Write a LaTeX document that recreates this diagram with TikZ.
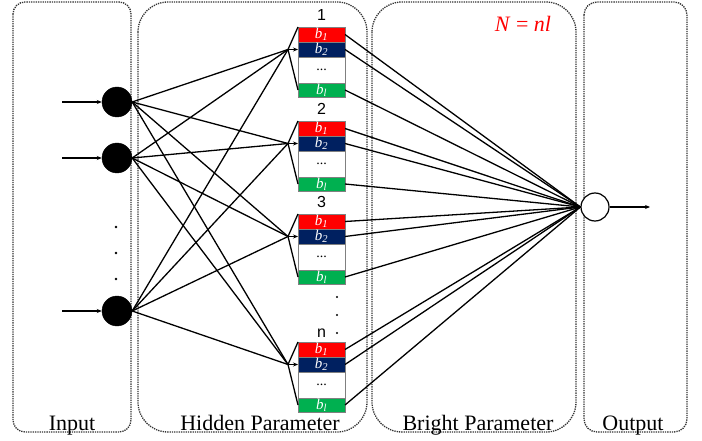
\documentclass[tikz,border=0pt]{standalone}
\usepackage{fontspec}
\setmainfont{Liberation Serif}
\newfontfamily\numfont{Liberation Sans}
\usetikzlibrary{positioning, arrows.meta}

\definecolor{bred}{HTML}{FF0000}
\definecolor{bnavy}{HTML}{002060}
\definecolor{bgreen}{HTML}{00B050}

\tikzset{
  panel/.style={draw=black!80, densely dotted, line width=1.3pt, rounded corners=#1},
  paneltext/.style={anchor=base, inner sep=0pt, font=\fontsize{22}{24}\selectfont},
  inneuron/.style={circle, fill=black, draw=black, minimum size=30pt, inner sep=0pt},
  outneuron/.style={circle, draw=black, line width=1.2pt, fill=white, minimum size=28pt, inner sep=0pt},
  cell/.style={draw=black!50, line width=0.7pt, minimum width=47pt, inner sep=0pt, outer sep=0pt,
    text=white, font=\fontsize{15}{15}\selectfont\itshape},
  rowone/.style={cell, fill=bred, minimum height=15pt},
  rowtwo/.style={cell, fill=bnavy, minimum height=15pt},
  rowdots/.style={cell, fill=white, text=black, minimum height=26pt, font=\fontsize{14}{14}\selectfont},
  rowlast/.style={cell, fill=bgreen, minimum height=14pt},
  numlabel/.style={inner sep=0pt, font=\numfont\fontsize{16}{16}\selectfont},
  wire/.style={line width=1.3pt, black},
}

\begin{document}
\begin{tikzpicture}[x=1pt, y=-1pt, >={Stealth[length=5pt, width=4pt]}]

    \useasboundingbox (0,0) rectangle (702,441);

    % Panels

    \draw[panel=12] (13,2) rectangle (131,432);
    \draw[panel=30] (138,2) rectangle (367,432);
    \draw[panel=30] (372,2) rectangle (576,432);
    \draw[panel=13] (584,2) rectangle (687,432);

    \node[paneltext] (tinput) at (72,430) {Input};
    \node[paneltext] (thidden) at (260,430) {Hidden Parameter};
    \node[paneltext] (tbright) at (478,430) {Bright Parameter};
    \node[paneltext] (toutput) at (633,430) {Output};

    \node[text=bred, font=\fontsize{22}{22}\selectfont] (nform) at (523,24) {\textit{N} = \textit{nl}};

    % Input layer

    \node[inneuron] (i1) at (117,102) {};
    \node[inneuron] (i2) at (117,158) {};
    \node[inneuron] (i3) at (117,311) {};

    \coordinate (a1) at (62,102);
    \coordinate (a2) at (62,158);
    \coordinate (a3) at (62,311);

    \draw[wire, ->] (a1) -- (i1);
    \draw[wire, ->] (a2) -- (i2);
    \draw[wire, ->] (a3) -- (i3);

    \fill (116,227) circle (1.3);
    \fill (116,253) circle (1.3);
    \fill (116,279) circle (1.3);

    % Hidden parameter blocks

    \node[rowone] (c1a) at (321.5,34.5) {b\textsubscript{1}};
    \node[rowtwo, below=0pt of c1a] (c1b) {b\textsubscript{2}};
    \node[rowdots, below=0pt of c1b] (c1c) {...};
    \node[rowlast, below=0pt of c1c] (c1d) {b\textsubscript{l}};
    \node[numlabel, above=6pt of c1a] (t1) {1};

    \node[rowone] (c2a) at (321.5,128.5) {b\textsubscript{1}};
    \node[rowtwo, below=0pt of c2a] (c2b) {b\textsubscript{2}};
    \node[rowdots, below=0pt of c2b] (c2c) {...};
    \node[rowlast, below=0pt of c2c] (c2d) {b\textsubscript{l}};
    \node[numlabel, above=6pt of c2a] (t2) {2};

    \node[rowone] (c3a) at (321.5,221.5) {b\textsubscript{1}};
    \node[rowtwo, below=0pt of c3a] (c3b) {b\textsubscript{2}};
    \node[rowdots, below=0pt of c3b] (c3c) {...};
    \node[rowlast, below=0pt of c3c] (c3d) {b\textsubscript{l}};
    \node[numlabel, above=6pt of c3a] (t3) {3};

    \node[rowone] (c4a) at (321.5,349.5) {b\textsubscript{1}};
    \node[rowtwo, below=0pt of c4a] (c4b) {b\textsubscript{2}};
    \node[rowdots, below=0pt of c4b] (c4c) {...};
    \node[rowlast, below=0pt of c4c] (c4d) {b\textsubscript{l}};
    \node[numlabel, above=4pt of c4a] (t4) {n};

    \fill (337,297) circle (1.1);
    \fill (337,315) circle (1.1);
    \fill (337,333) circle (1.1);

    \coordinate[left=10pt of c1b] (h1);
    \coordinate[left=10pt of c2b] (h2);
    \coordinate[left=10pt of c3b] (h3);
    \coordinate[left=10pt of c4b] (h4);

    \draw[wire, ->] (h1) -- (c1b);
    \draw[wire] (h1) -- (c1a.north west);
    \draw[wire] (h1) -- (c1d.west);
    \draw[wire, ->] (h2) -- (c2b);
    \draw[wire] (h2) -- (c2a.north west);
    \draw[wire] (h2) -- (c2d.west);
    \draw[wire, ->] (h3) -- (c3b);
    \draw[wire] (h3) -- (c3a.north west);
    \draw[wire] (h3) -- (c3d.west);
    \draw[wire, ->] (h4) -- (c4b);
    \draw[wire] (h4) -- (c4a.north west);
    \draw[wire] (h4) -- (c4d.west);

    \draw[wire] (i1.east) -- (h1);
    \draw[wire] (i1.east) -- (h2);
    \draw[wire] (i1.east) -- (h3);
    \draw[wire] (i1.east) -- (h4);
    \draw[wire] (i2.east) -- (h1);
    \draw[wire] (i2.east) -- (h2);
    \draw[wire] (i2.east) -- (h3);
    \draw[wire] (i2.east) -- (h4);
    \draw[wire] (i3.east) -- (h1);
    \draw[wire] (i3.east) -- (h2);
    \draw[wire] (i3.east) -- (h3);
    \draw[wire] (i3.east) -- (h4);

    % Output

    \node[outneuron] (o) at (595,207) {};
    \coordinate (oend) at (650,207);
    \draw[wire, ->] (o) -- (oend);

    \draw[wire] (c1a.east) -- (o.west);
    \draw[wire] (c1b.east) -- (o.west);
    \draw[wire] (c1d.east) -- (o.west);
    \draw[wire] (c2a.east) -- (o.west);
    \draw[wire] (c2b.east) -- (o.west);
    \draw[wire] (c2d.east) -- (o.west);
    \draw[wire] (c3a.east) -- (o.west);
    \draw[wire] (c3b.east) -- (o.west);
    \draw[wire] (c3d.east) -- (o.west);
    \draw[wire] (c4a.east) -- (o.west);
    \draw[wire] (c4b.east) -- (o.west);
    \draw[wire] (c4d.east) -- (o.west);

\end{tikzpicture}
\end{document}
